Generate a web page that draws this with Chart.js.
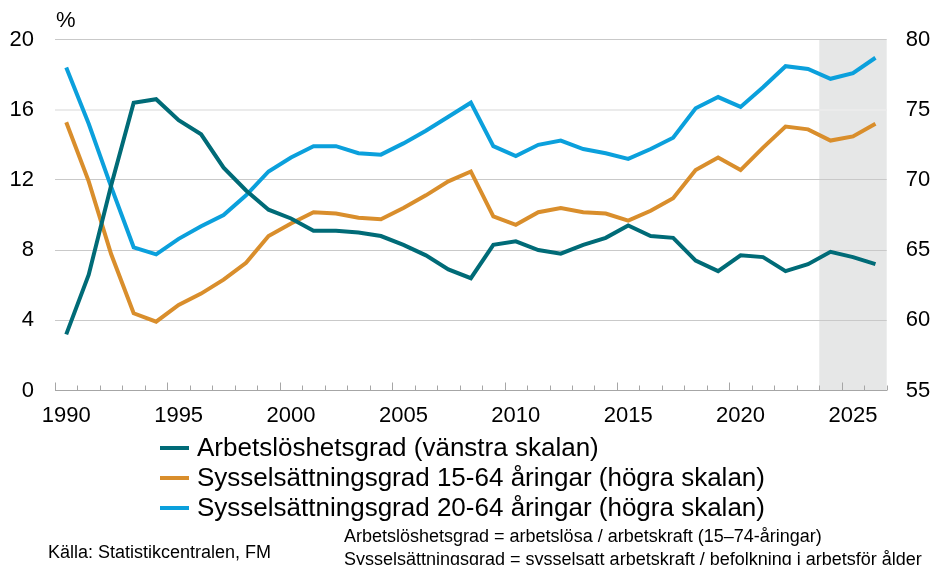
<!DOCTYPE html>
<html>
  <head>
    <style>
      body { margin: 0; background: #ffffff; }
      #chart { display: block; }
    </style>
  </head>
  <body>
    <canvas id="chart" width="934" height="565"></canvas>

    <script src="https://cdn.jsdelivr.net/npm/chart.js"></script>
    <script>
      const years = [
        "1990", "1991", "1992", "1993", "1994", "1995", "1996", "1997", "1998", "1999",
        "2000", "2001", "2002", "2003", "2004", "2005", "2006", "2007", "2008", "2009",
        "2010", "2011", "2012", "2013", "2014", "2015", "2016", "2017", "2018", "2019",
        "2020", "2021", "2022", "2023", "2024", "2025", "2026"
      ];

      // arbetslöshetsgrad, vänstra skalan
      const unemployment = [
        3.2, 6.6, 11.7, 16.4, 16.6, 15.4, 14.6, 12.7, 11.4, 10.3,
        9.8, 9.1, 9.1, 9.0, 8.8, 8.3, 7.7, 6.9, 6.4, 8.3,
        8.5, 8.0, 7.8, 8.3, 8.7, 9.4, 8.8, 8.7, 7.4, 6.8,
        7.7, 7.6, 6.8, 7.2, 7.9, 7.6, 7.2
      ];

      // sysselsättningsgrad 15-64, högra skalan
      const employment1564 = [
        74.1, 69.9, 64.7, 60.5, 59.9, 61.1, 61.9, 62.9, 64.1, 66.0,
        66.9, 67.7, 67.6, 67.3, 67.2, 68.0, 68.9, 69.9, 70.6, 67.4,
        66.8, 67.7, 68.0, 67.7, 67.6, 67.1, 67.8, 68.7, 70.7, 71.6,
        70.7, 72.3, 73.8, 73.6, 72.8, 73.1, 74.0
      ];

      // sysselsättningsgrad 20-64, högra skalan
      const employment2064 = [
        78.0, 74.0, 69.5, 65.2, 64.7, 65.8, 66.7, 67.5, 68.9, 70.6,
        71.6, 72.4, 72.4, 71.9, 71.8, 72.6, 73.5, 74.5, 75.5, 72.4,
        71.7, 72.5, 72.8, 72.2, 71.9, 71.5, 72.2, 73.0, 75.1, 75.9,
        75.2, 76.6, 78.1, 77.9, 77.2, 77.6, 78.7
      ];

      const leftTicks = [0, 4, 8, 12, 16, 20];
      const rightTicks = [55, 60, 65, 70, 75, 80];
      const forecastStart = "2024";

      const seriesNames = [
        "Arbetslöshetsgrad (vänstra skalan)",
        "Sysselsättningsgrad 15-64 åringar (högra skalan)",
        "Sysselsättningsgrad 20-64 åringar (högra skalan)"
      ];
      const notes = [
        "Arbetslöshetsgrad = arbetslösa / arbetskraft (15–74-åringar)",
        "Sysselsättningsgrad = sysselsatt arbetskraft / befolkning i arbetsför ålder"
      ];
      const source = "Källa: Statistikcentralen, FM";

      const FONT = "'Liberation Sans', Arial, sans-serif";

      // grey forecast band + year ticks on the x axis
      const decorPlugin = {
        id: "decor",
        beforeDraw(chart) {
          const ctx = chart.ctx;
          const x = chart.scales.x;
          const area = chart.chartArea;
          const half = (x.getPixelForValue(1) - x.getPixelForValue(0)) / 2;
          const start = x.getPixelForValue(years.indexOf(forecastStart)) - half;
          ctx.save();
          ctx.fillStyle = "#e6e7e7";
          ctx.fillRect(start, area.top, area.right - start, area.bottom - area.top);
          ctx.restore();
        },
        afterDraw(chart) {
          const ctx = chart.ctx;
          const x = chart.scales.x;
          const area = chart.chartArea;
          const half = (x.getPixelForValue(1) - x.getPixelForValue(0)) / 2;
          ctx.save();
          ctx.strokeStyle = "#a6a6a6";
          ctx.lineWidth = 1;
          for (let i = 0; i <= years.length; i++) {
            const px = Math.round(x.getPixelForValue(i) - half) + 0.5;
            const big = i < years.length && Number(years[i]) % 5 === 0;
            ctx.beginPath();
            ctx.moveTo(px, area.bottom);
            ctx.lineTo(px, area.bottom - (big ? 8 : 5));
            ctx.stroke();
          }

          // percent sign
          ctx.fillStyle = "#000000";
          ctx.font = "22px " + FONT;
          ctx.textBaseline = "middle";
          ctx.textAlign = "left";
          ctx.fillText("%", 56, 21);

          // legend
          ctx.font = "26px " + FONT;
          chart.data.datasets.forEach(function (ds, i) {
            const y = 448 + i * 30;
            ctx.strokeStyle = ds.borderColor;
            ctx.lineWidth = 4;
            ctx.beginPath();
            ctx.moveTo(160, y);
            ctx.lineTo(189, y);
            ctx.stroke();
            ctx.fillStyle = "#000000";
            ctx.fillText(ds.label, 197, y + 1);
          });

          // notes
          ctx.font = "18px " + FONT;
          ctx.fillText(source, 48, 553);
          ctx.fillText(notes[0], 344, 537);
          ctx.fillText(notes[1], 344, 560);
          ctx.restore();
        }
      };

      const canvas = document.getElementById("chart");

      const chart = new Chart(canvas, {
        type: "line",
        data: {
          labels: years,
          datasets: [
            {
              label: seriesNames[0],
              data: unemployment,
              yAxisID: "y",
              borderColor: "#006b77",
              borderWidth: 4,
              pointRadius: 0,
              tension: 0
            },
            {
              label: seriesNames[1],
              data: employment1564,
              yAxisID: "y1",
              borderColor: "#d98e2c",
              borderWidth: 4,
              pointRadius: 0,
              tension: 0
            },
            {
              label: seriesNames[2],
              data: employment2064,
              yAxisID: "y1",
              borderColor: "#0ba0dc",
              borderWidth: 4,
              pointRadius: 0,
              tension: 0
            }
          ]
        },
        options: {
          responsive: false,
          animation: false,
          devicePixelRatio: 1,
          layout: {
            padding: { left: 0, right: 0, top: 39.5, bottom: 134.5 }
          },
          plugins: {
            legend: { display: false },
            tooltip: { enabled: false }
          },
          scales: {
            x: {
              type: "category",
              offset: true,
              grid: { display: false, drawTicks: false, offset: true },
              border: { display: true, color: "#a6a6a6", width: 1 },
              ticks: {
                autoSkip: false,
                maxRotation: 0,
                padding: 12,
                color: "#000000",
                font: { family: FONT, size: 22 },
                callback: function (value, index) {
                  const yr = years[index];
                  return Number(yr) % 5 === 0 ? yr : "";
                }
              },
              afterFit: function (scale) { scale.height = 40; }
            },
            y: {
              position: "left",
              min: 0,
              max: 20,
              afterBuildTicks: function (scale) {
                scale.ticks = leftTicks.map(function (v) { return { value: v }; });
              },
              grid: {
                drawTicks: false,
                color: function (c) {
                  if (c.tick && c.tick.value === 0) return "rgba(0,0,0,0)";
                  return c.tick && c.tick.value === 16 ? "#ebebeb" : "#c9c9c9";
                },
                lineWidth: function (c) {
                  return c.tick && c.tick.value === 16 ? 2 : 1;
                }
              },
              border: { display: false },
              ticks: {
                padding: 21,
                color: "#000000",
                font: { family: FONT, size: 22 }
              },
              afterFit: function (scale) { scale.width = 55; }
            },
            y1: {
              position: "right",
              min: 55,
              max: 80,
              afterBuildTicks: function (scale) {
                scale.ticks = rightTicks.map(function (v) { return { value: v }; });
              },
              grid: { display: false, drawTicks: false },
              border: { display: false },
              ticks: {
                padding: 19,
                color: "#000000",
                font: { family: FONT, size: 22 }
              },
              afterFit: function (scale) { scale.width = 47.3; }
            }
          }
        },
        plugins: [decorPlugin]
      });
    </script>
  </body>
</html>
